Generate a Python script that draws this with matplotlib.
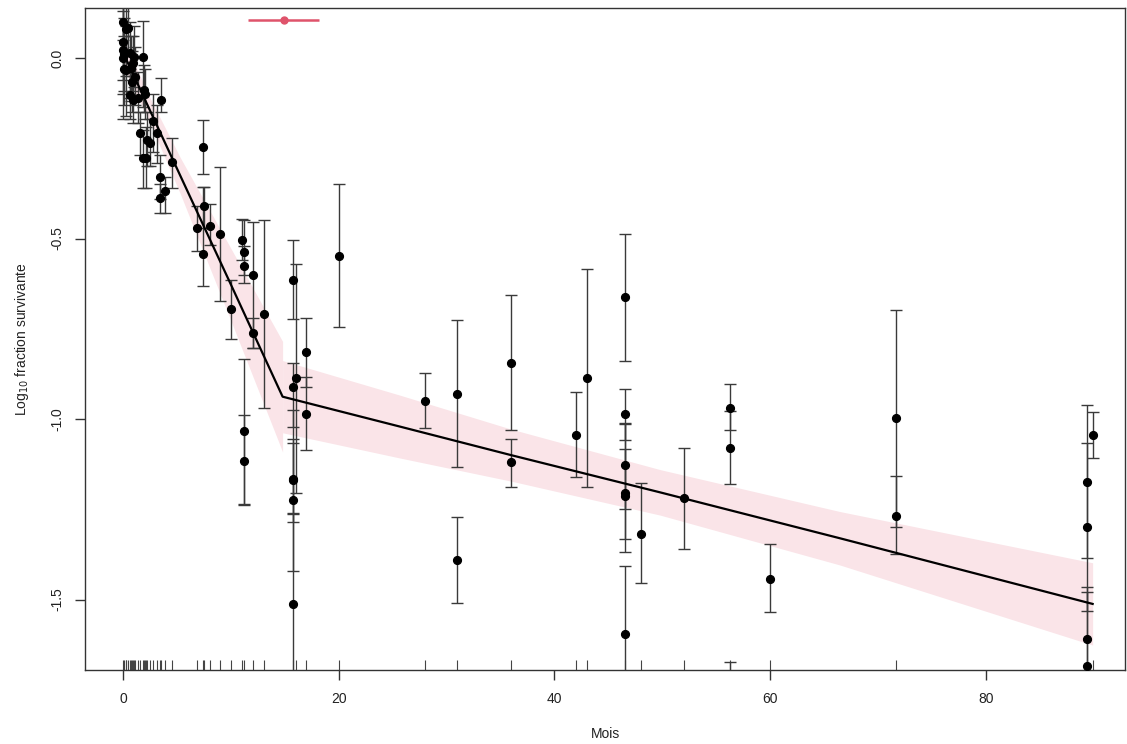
import matplotlib.pyplot as plt
import numpy as np

plt.rcParams["font.family"] = ["Liberation Sans", "DejaVu Sans"]

# observed points: month, log10 surviving fraction, lower / upper limit
mois = [
    0.0, 0.0, 0.0, 0.0, 0.1, 0.1, 0.25, 0.3, 0.5, 0.65, 0.65, 0.71, 0.86, 0.96, 0.96,
    1.05, 1.1, 1.42, 1.58, 1.89, 1.89, 1.98, 2.04, 2.1, 2.2, 2.5, 2.81, 3.18, 3.46,
    3.46, 3.49, 3.89, 4.57,
    6.89, 7.41, 7.41, 7.5, 8.03, 9.02, 10.0, 11.06, 11.25, 11.25, 11.25, 11.25,
    12.1, 12.1, 13.1,
    15.76, 15.76, 15.76, 15.76, 15.76, 15.76, 16.0, 17.0, 17.0, 20.05,
    28.0, 31.0, 31.0, 36.0, 36.0, 42.0, 43.0,
    46.5, 46.5, 46.5, 46.5, 46.5, 46.5, 48.0, 52.0, 56.3, 56.3, 56.3, 60.0,
    71.7, 71.7, 89.35, 89.35, 89.35, 89.35, 89.9,
]
log_frac = [
    0.045, 0.022, -0.001, 0.10, -0.03, 0.01, -0.033, 0.08, 0.082, 0.013, -0.102,
    -0.029, -0.066, -0.015, -0.116, 0.004, -0.052, -0.112, -0.209, 0.004, -0.278,
    -0.089, -0.10, -0.278, -0.227, -0.235, -0.175, -0.209, -0.329, -0.389, -0.116,
    -0.368, -0.289,
    -0.472, -0.247, -0.544, -0.41, -0.464, -0.488, -0.696, -0.504, -0.536, -0.576,
    -1.034, -1.115, -0.600, -0.761, -0.709,
    -0.614, -0.910, -1.167, -1.169, -1.223, -1.512, -0.886, -0.815, -0.986, -0.547,
    -0.949, -0.931, -1.389, -0.845, -1.120, -1.043, -0.887,
    -0.662, -0.986, -1.128, -1.206, -1.212, -1.595, -1.317, -1.220, -0.968, -1.080,
    -1.85, -1.444,
    -0.996, -1.268, -1.174, -1.300, -1.610, -1.683, -1.043,
]
ic_bas = [
    -0.06, -0.10, -0.17, 0.05, -0.13, -0.09, -0.16, -0.05, 0.02, -0.11, -0.17,
    -0.12, -0.15, -0.09, -0.18, -0.08, -0.13, -0.18, -0.27, -0.135, -0.36,
    -0.15, -0.17, -0.36, -0.30, -0.30, -0.26, -0.29, -0.39, -0.43, -0.15,
    -0.43, -0.359,
    -0.534, -0.321, -0.632, -0.47, -0.518, -0.673, -0.779, -0.56, -0.60, -0.624,
    -1.238, -1.234, -0.804, -0.804, -0.970,
    -0.724, -1.022, -1.421, -1.263, -1.286, -1.90, -1.204, -0.910, -1.085, -0.745,
    -1.024, -1.134, -1.509, -1.030, -1.187, -1.161, -1.187,
    -0.838, -1.059, -1.248, -1.331, -1.367, -2.0, -1.455, -1.359, -1.030, -1.179,
    -2.0, -1.535,
    -1.375, -1.300, -1.386, -1.532, -1.75, -1.90, -1.109,
]
ic_haut = [
    0.15, 0.14, 0.13, 0.15, 0.06, 0.11, 0.09, 0.16, 0.14, 0.10, -0.03,
    0.06, 0.02, 0.06, -0.05, 0.09, 0.03, -0.04, -0.15, 0.102, -0.20,
    -0.02, -0.03, -0.19, -0.15, -0.17, -0.10, -0.13, -0.27, -0.35, -0.055,
    -0.33, -0.222,
    -0.409, -0.172, -0.356, -0.356, -0.405, -0.303, -0.615, -0.447, -0.45, -0.52,
    -0.835, -0.989, -0.453, -0.721, -0.450,
    -0.504, -0.844, -0.976, -1.056, -1.066, -1.260, -0.571, -0.719, -0.884, -0.349,
    -0.872, -0.727, -1.271, -0.657, -1.056, -0.924, -0.584,
    -0.488, -0.917, -1.011, -1.083, -1.013, -1.406, -1.176, -1.080, -0.904, -0.979,
    -1.673, -1.347,
    -0.698, -1.158, -0.962, -1.067, -1.464, -1.480, -0.980,
]

# segmented fit and its confidence band
fit_x1 = [0.0, 2.5, 5.3, 10.0, 14.8]
fit_y1 = [0.016, -0.145, -0.325, -0.627, -0.938]
band_w1 = [0.04, 0.035, 0.05, 0.10, 0.153]
fit_x2 = [14.8, 25.7, 36.0, 49.8, 66.45, 89.9]
fit_y2 = [-0.938, -1.021, -1.100, -1.203, -1.330, -1.512]
band_w2 = [0.10, 0.087, 0.072, 0.063, 0.074, 0.114]

# breakpoint estimate with its interval
rupture_x = 14.9
rupture_lo, rupture_hi = 11.6, 18.2
rupture_y = 0.105

mois = np.array(mois)
log_frac = np.array(log_frac)
ic_bas = np.array(ic_bas)
ic_haut = np.array(ic_haut)

fig = plt.figure(figsize=(11.27, 7.44), dpi=100)
ax = fig.add_axes([85 / 1127, 1 - 670 / 744, 1040 / 1127, 662 / 744])

band_col = "#fae4e8"
for fx, fy, bw in [(fit_x1, fit_y1, band_w1), (fit_x2, fit_y2, band_w2)]:
    fy, bw = np.array(fy), np.array(bw)
    ax.fill_between(fx, fy - bw, fy + bw, color=band_col, lw=0, zorder=1)

ax.errorbar(
    mois, log_frac, yerr=[log_frac - ic_bas, ic_haut - log_frac],
    fmt="o", ms=5.6, color="black", ecolor="#3a3a3a", elinewidth=1,
    capsize=4.3, capthick=1, zorder=3,
)
ax.plot(fit_x1 + fit_x2[1:], fit_y1 + fit_y2[1:], color="black", lw=1.6, zorder=4)

ax.errorbar(
    [rupture_x], [rupture_y],
    xerr=[[rupture_x - rupture_lo], [rupture_hi - rupture_x]],
    fmt="o", ms=5, color="#DF536B", elinewidth=1.8, zorder=5,
)

# rug of observed months
ax.vlines(np.unique(mois), 0, 0.015, transform=ax.get_xaxis_transform(),
          color="#444444", lw=0.8, zorder=2)

ax.set_xlim(-3.52, 92.9)
ax.set_ylim(-1.695, 0.1385)
ax.set_xticks([0, 20, 40, 60, 80])
ax.set_yticks([0.0, -0.5, -1.0, -1.5])
ax.set_yticklabels(["0.0", "-0.5", "-1.0", "-1.5"], rotation=90, va="center")

for s in ax.spines.values():
    s.set_color("#333333")
    s.set_linewidth(1)
ax.tick_params(length=7, width=1, color="#333333", labelsize=10, labelcolor="#222222")
ax.tick_params(axis="x", pad=9)
ax.tick_params(axis="y", pad=8)

ax.set_xlabel("Mois", fontsize=10, color="#222222", labelpad=15)
ax.set_ylabel("Log$_{10}$ fraction survivante", fontsize=10, color="#222222", labelpad=14)

fig.savefig("out.png", dpi=100)
